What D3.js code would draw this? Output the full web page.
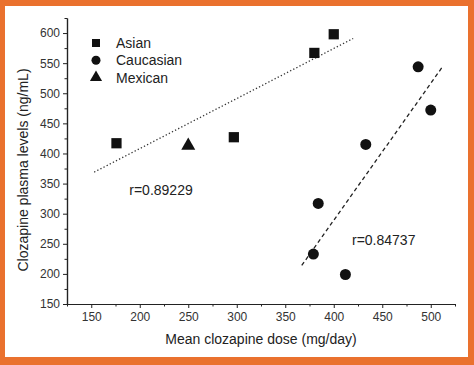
<!DOCTYPE html>
<html>
<head>
<meta charset="utf-8">
<script src="https://cdn.jsdelivr.net/npm/d3@7"></script>
<style>
  body { margin: 0; background: #fff; }
  .axis path, .axis line { stroke: #222; }
  .axis text { font-family: "Liberation Sans", Arial, sans-serif; font-size: 12px; fill: #333; }
</style>
</head>
<body>
<svg></svg>
<script>
// data
let asianDose = [176, 297, 380, 400];
let asianLevel = [417, 427, 567, 598];
let caucasianDose = [379, 384, 412, 433, 487, 500];
let caucasianLevel = [233, 317, 199, 415, 544, 472];
let mexicanDose = [250];
let mexicanLevel = [413];

// fitted lines (end points)
let asianFit = [[153, 369], [420, 591]];
let caucasianFit = [[367, 214], [513, 546]];

let xTicks = [150, 200, 250, 300, 350, 400, 450, 500];
let xMinor = [125, 175, 225, 275, 325, 375, 425, 475, 525];
let yTicks = [150, 200, 250, 300, 350, 400, 450, 500, 550, 600];
let yMinor = [175, 225, 275, 325, 375, 425, 475, 525, 575, 625];

let legendNames = ['Asian', 'Caucasian', 'Mexican'];

// svg / plot configuration
let config = { svg: {}, plot: {} };
config.svg.width = 474;
config.svg.height = 365;
config.plot.left = 67;
config.plot.right = 455;
config.plot.top = 18;
config.plot.bottom = 304;

let svg = d3.select('svg')
  .attr('width', config.svg.width)
  .attr('height', config.svg.height);

// orange frame
svg.append('rect')
  .attr('x', 0).attr('y', 0)
  .attr('width', config.svg.width).attr('height', config.svg.height)
  .style('fill', '#ea712e');
svg.append('rect')
  .attr('x', 5).attr('y', 6)
  .attr('width', 463).attr('height', 351)
  .style('fill', '#ffffff');

let scale = {};
scale.x = d3.scaleLinear().domain([125, 525]).range([config.plot.left, config.plot.right]);
scale.y = d3.scaleLinear().domain([150, 625]).range([config.plot.bottom, config.plot.top]);

// axes
let axis = {};
axis.x = d3.axisBottom(scale.x).tickValues(xTicks).tickSize(4).tickSizeOuter(0).tickPadding(4);
axis.xm = d3.axisBottom(scale.x).tickValues(xMinor).tickSize(2.5).tickSizeOuter(0).tickFormat('');
axis.y = d3.axisLeft(scale.y).tickValues(yTicks).tickSize(4).tickSizeOuter(0).tickPadding(3);
axis.ym = d3.axisLeft(scale.y).tickValues(yMinor).tickSize(2.5).tickSizeOuter(0).tickFormat('');

svg.append('g').attr('class', 'axis').attr('transform', translate(0, config.plot.bottom)).call(axis.x);
svg.append('g').attr('class', 'axis').attr('transform', translate(0, config.plot.bottom)).call(axis.xm);
svg.append('g').attr('class', 'axis').attr('transform', translate(config.plot.left, 0)).call(axis.y);
svg.append('g').attr('class', 'axis').attr('transform', translate(config.plot.left, 0)).call(axis.ym);

svg.selectAll('.axis path').style('stroke-width', 1.2);

// axis titles
svg.append('text')
  .attr('x', 261).attr('y', 344)
  .style('text-anchor', 'middle')
  .style('font-family', '"Liberation Sans", Arial, sans-serif')
  .style('font-size', '14px')
  .style('fill', '#222')
  .text('Mean clozapine dose (mg/day)');

svg.append('text')
  .attr('transform', 'translate(28,170) rotate(-90)')
  .style('text-anchor', 'middle')
  .style('font-family', '"Liberation Sans", Arial, sans-serif')
  .style('font-size', '14px')
  .style('fill', '#222')
  .text('Clozapine plasma levels (ng/mL)');

// fit lines
let line = d3.line().x(d => scale.x(d[0])).y(d => scale.y(d[1]));
svg.append('path')
  .attr('d', line(asianFit))
  .style('fill', 'none').style('stroke', '#333')
  .style('stroke-width', 1.3).style('stroke-dasharray', '1.3,2.2');
svg.append('path')
  .attr('d', line(caucasianFit))
  .style('fill', 'none').style('stroke', '#222')
  .style('stroke-width', 1.3).style('stroke-dasharray', '4,3');

// markers
let square = d3.symbol().type(d3.symbolSquare).size(105);
let circle = d3.symbol().type(d3.symbolCircle).size(95);
let triangle = d3.symbol().type(d3.symbolTriangle).size(85);

function drawPoints(xs, ys, sym) {
  svg.append('g').selectAll('path')
    .data(xs.map((x, i) => [x, ys[i]]))
    .enter().append('path')
    .attr('d', sym)
    .attr('transform', d => translate(scale.x(d[0]), scale.y(d[1])))
    .style('fill', '#111');
}
drawPoints(asianDose, asianLevel, square);
drawPoints(caucasianDose, caucasianLevel, circle);
drawPoints(mexicanDose, mexicanLevel, triangle);

// legend
let legendSymbols = [
  d3.symbol().type(d3.symbolSquare).size(64),
  d3.symbol().type(d3.symbolCircle).size(64),
  d3.symbol().type(d3.symbolTriangle).size(64)
];
let legend = svg.append('g').attr('transform', translate(96, 43));
legendNames.forEach(function(name, i) {
  legend.append('path')
    .attr('d', legendSymbols[i])
    .attr('transform', translate(0, i * 17.3))
    .style('fill', '#111');
  legend.append('text')
    .attr('x', 20).attr('y', i * 17.3 + 5)
    .style('font-family', '"Liberation Sans", Arial, sans-serif')
    .style('font-size', '14px')
    .style('fill', '#222')
    .text(name);
});

// correlation labels
svg.append('text')
  .attr('x', 161).attr('y', 195)
  .style('text-anchor', 'middle')
  .style('font-family', '"Liberation Sans", Arial, sans-serif')
  .style('font-size', '14px')
  .style('fill', '#222')
  .text('r=0.89229');
svg.append('text')
  .attr('x', 352).attr('y', 245)
  .style('font-family', '"Liberation Sans", Arial, sans-serif')
  .style('font-size', '14px')
  .style('fill', '#222')
  .text('r=0.84737');

// helper method to make translating easier
function translate(x, y) {
  return 'translate(' + x + ',' + y + ')';
}
</script>
</body>
</html>
